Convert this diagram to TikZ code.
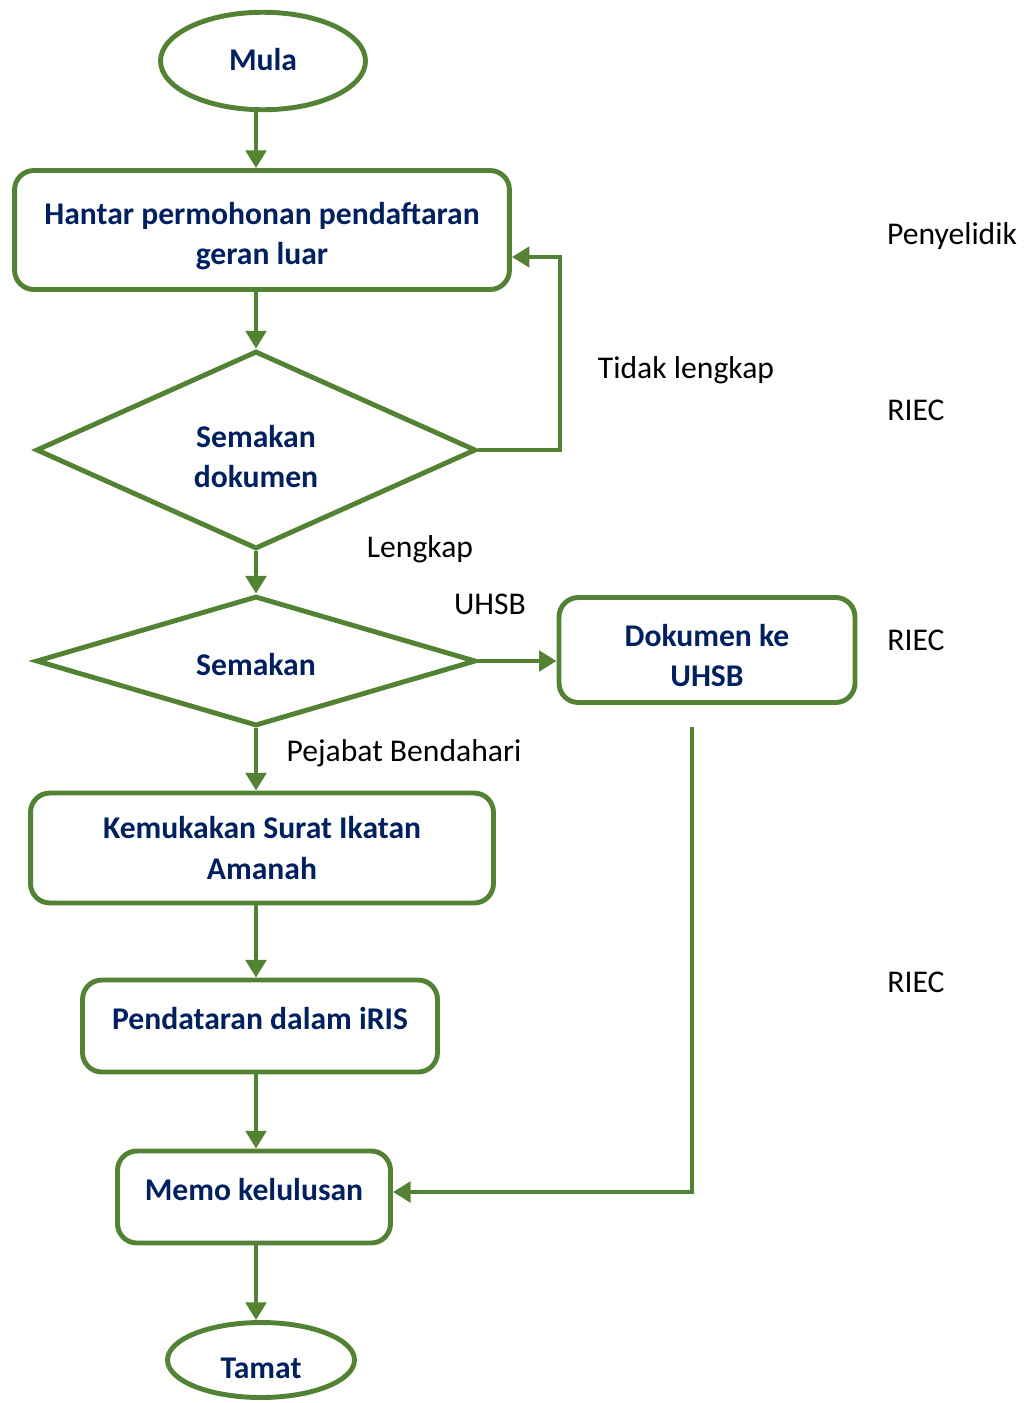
\documentclass[tikz,border=0pt]{standalone}
\usepackage{fontspec}
\setmainfont{Carlito}
\usetikzlibrary{shapes.geometric,arrows.meta}
\definecolor{flowgreen}{HTML}{548235}
\definecolor{flowblue}{HTML}{002060}
\tikzset{
  stepbox/.style={draw=flowgreen, line width=2.8pt, rounded corners=11pt, align=center, font=\fontsize{18}{22.8}\selectfont\bfseries, text=flowblue, inner sep=0pt},
  endbox/.style={draw=flowgreen, line width=2.8pt, ellipse, font=\fontsize{18}{22.8}\selectfont\bfseries, text=flowblue, inner sep=0pt},
  checkbox/.style={draw=flowgreen, line width=2.8pt, diamond, align=center, font=\fontsize{18}{22.8}\selectfont\bfseries, text=flowblue, inner sep=0pt},
  lbl/.style={font=\fontsize{18}{22.8}\selectfont, text=black},
  flow/.style={draw=flowgreen, line width=2.8pt, -{Triangle[length=10pt,width=11.5pt]}}
}
\begin{document}
\begin{tikzpicture}[x=0.02cm,y=-0.02cm]
\useasboundingbox (0,0) rectangle (1024,1403);
\node[endbox, minimum width=4.1cm, minimum height=1.95cm, text depth=2pt] (mula) at (263,61) {Mula};
\node[stepbox, minimum width=9.9cm, minimum height=2.38cm, text height=42pt] (hantar) at (262,230) {Hantar permohonan pendaftaran\\geran luar};
\node[checkbox, shape aspect=2.3, minimum width=8.8cm, minimum height=3.96cm, text height=43pt] (semak1) at (256,450) {Semakan\\dokumen};
\node[checkbox, shape aspect=3.5, minimum width=8.8cm, minimum height=2.6cm, text height=16.5pt] (semak2) at (256,661) {Semakan};
\node[stepbox, minimum width=5.92cm, minimum height=2.1cm, text height=42pt] (uhsb) at (707,650) {Dokumen ke\\UHSB};
\node[stepbox, minimum width=9.26cm, minimum height=2.2cm] (surat) at (262,848) {Kemukakan Surat Ikatan\\Amanah};
\node[stepbox, minimum width=7.1cm, minimum height=1.84cm, text depth=9pt] (iris) at (260,1026) {Pendataran dalam iRIS};
\node[stepbox, minimum width=5.46cm, minimum height=1.84cm, text depth=9pt] (memo) at (254,1197) {Memo kelulusan};
\node[endbox, minimum width=3.74cm, minimum height=1.5cm, text height=21pt] (tamat) at (261,1360) {Tamat};

\node[lbl] (tidak) at (686,370) {Tidak lengkap};
\node[lbl] (lengkap) at (420,549) {Lengkap};
\node[lbl] (lbluhsb) at (490,604) {UHSB};
\node[lbl] (bendahari) at (404,753) {Pejabat Bendahari};
\node[lbl] (penyelidik) at (952,236) {Penyelidik};
\node[lbl] (riec1) at (916,410) {RIEC};
\node[lbl] (riec2) at (916,640) {RIEC};
\node[lbl] (riec3) at (916,982) {RIEC};

\coordinate (uhsbdown) at (692,727);

\path[flow] (mula.south -| semak1.north) -- (hantar.north -| semak1.north);
\path[flow] (hantar.south -| semak1.north) -- (semak1.north);
\path[flow] (semak1.east) -- (560,450) -- (560,257) -- (hantar.east |- 0,257);
\path[flow] (semak1.south) -- (semak2.north);
\path[flow] (semak2.east) -- (uhsb.west |- semak2.east);
\path[flow] (semak2.south) -- (surat.north -| semak1.north);
\path[flow] (surat.south -| semak1.north) -- (iris.north -| semak1.north);
\path[flow] (iris.south -| semak1.north) -- (memo.north -| semak1.north);
\path[flow] (uhsbdown) -- (692,1192) -- (memo.east |- 0,1192);
\path[flow] (memo.south -| semak1.north) -- (tamat.north -| semak1.north);
\end{tikzpicture}
\end{document}
